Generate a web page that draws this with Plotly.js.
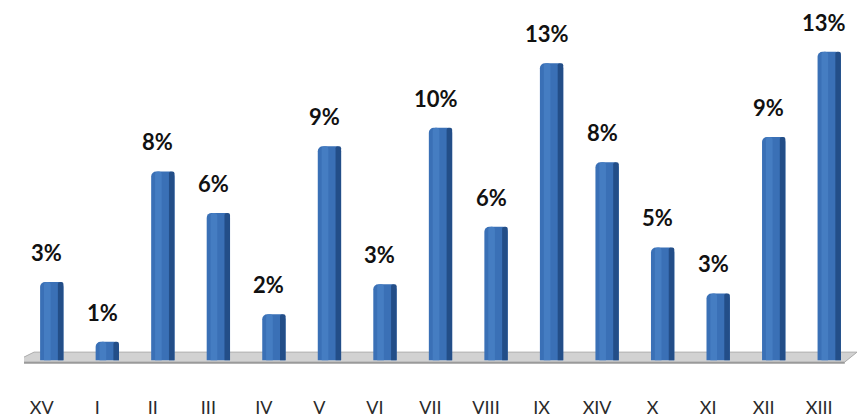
<!DOCTYPE html>
<html>
<head>
<meta charset="utf-8">
<script src="https://cdn.plot.ly/plotly-3.0.1.min.js"></script>
<style>html,body{margin:0;padding:0;background:#fff;}#chart{width:857px;height:418px;}</style>
</head>
<body>
<div id="chart"></div>
<script>
const categories = ["XV","I","II","III","IV","V","VI","VII","VIII","IX","XIV","X","XI","XII","XIII"];
const values = [3.4, 0.8, 8.2, 6.4, 2.0, 9.3, 3.3, 10.1, 5.8, 12.9, 8.6, 4.9, 2.9, 9.7, 13.4];
const labels = ["3%","1%","8%","6%","2%","9%","3%","10%","6%","13%","8%","5%","3%","9%","13%"];

const idx = categories.map((c, i) => i);

const front = {
  type: 'bar', x: idx, y: values, width: 0.42,
  marker: {color: '#3a70b6', cornerradius: 5, line: {width: 0}},
  hoverinfo: 'skip'
};
const side = {
  type: 'bar', x: idx, y: values, width: 0.10, offset: 0.11,
  marker: {color: '#234e88', cornerradius: 3, line: {width: 0}},
  hoverinfo: 'skip'
};
const shine = {
  type: 'bar', x: idx, y: values, width: 0.12, offset: -0.14,
  marker: {color: '#457dc2', cornerradius: 3, line: {width: 0}},
  hoverinfo: 'skip'
};

const annotations = idx.map(i => ({
  x: i, y: values[i], xref: 'x', yref: 'y', text: labels[i],
  showarrow: false, yanchor: 'bottom', xanchor: 'center', yshift: 14, xshift: -5,
  font: {family: 'Lato, Open Sans, sans-serif', size: 22, color: '#111', weight: 'bold'}
}));

const layout = {
  width: 857, height: 418,
  margin: {l: 24, r: 0, t: 15, b: 44},
  paper_bgcolor: '#fff', plot_bgcolor: '#fff',
  barmode: 'overlay', showlegend: false,
  xaxis: {
    range: [-0.5, 14.5], tickmode: 'array', tickvals: idx, ticktext: categories,
    showgrid: false, zeroline: false, showline: false,
    ticks: 'outside', ticklen: 17, tickcolor: 'rgba(0,0,0,0)',
    ticklabelshift: -10,
    tickfont: {family: 'Lato, Open Sans, sans-serif', size: 18, color: '#2a2a2a'},
    fixedrange: true
  },
  yaxis: {range: [-0.6, 15], visible: false, fixedrange: true},
  shapes: [
    {type: 'path', xref: 'x', yref: 'y', layer: 'below',
     path: 'M -0.32 0.35 L 14.5 0.35 L 14.28 -0.08 L -0.68 -0.08 Z',
     fillcolor: '#d2d2d2', line: {color: '#ababab', width: 1}},
    {type: 'path', xref: 'x', yref: 'y', layer: 'below',
     path: 'M -0.68 -0.08 L 14.28 -0.08 L 14.28 -0.16 L -0.68 -0.16 Z',
     fillcolor: '#9a9a9a', line: {width: 0}}
  ],
  annotations: annotations
};

Plotly.newPlot('chart', [front, shine, side], layout, {displayModeBar: false, staticPlot: true});
</script>
</body>
</html>
